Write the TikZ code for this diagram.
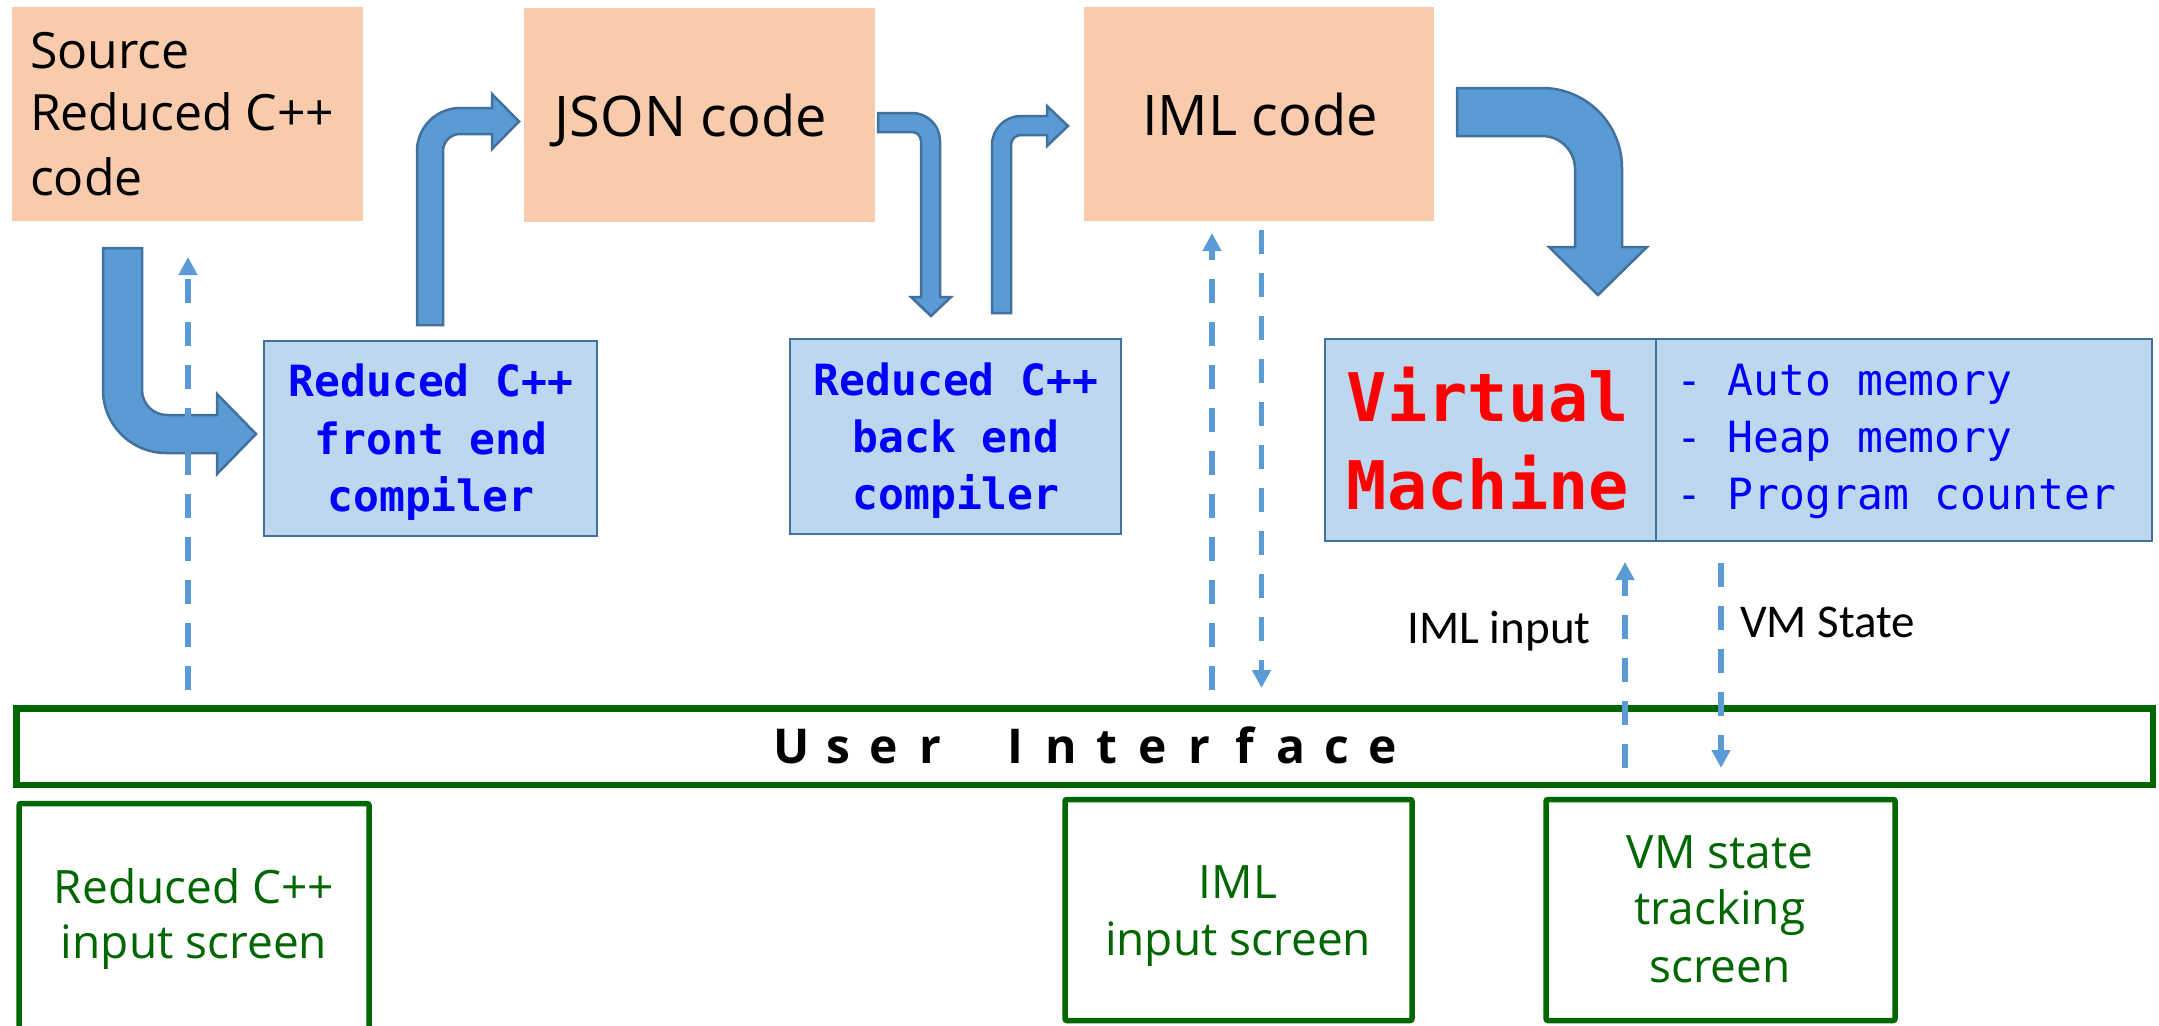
\documentclass[tikz,border=0pt]{standalone}
\usepackage{fontspec}
\usetikzlibrary{arrows.meta}
\newfontfamily\comicf{Open Sans}
\newfontfamily\monof{DejaVu Sans Mono}
\newfontfamily\calf{Carlito}
\definecolor{peach}{HTML}{F8CBAD}
\definecolor{lightblue}{HTML}{BDD7EE}
\definecolor{arrowfill}{HTML}{5B9BD5}
\definecolor{boxedge}{HTML}{41719C}
\definecolor{uigreen}{HTML}{006600}
\definecolor{textblue}{HTML}{0000FF}
\definecolor{textred}{HTML}{FF0000}
\newcommand\lsp[1]{\makebox[46pt]{#1}}
\begin{document}
\begin{tikzpicture}[x=1pt,y=-1pt,
  orangebox/.style={fill=peach, draw=none, inner sep=0pt, outer sep=0pt},
  bluebox/.style={fill=lightblue, draw=boxedge, line width=2.5pt, inner sep=0pt, outer sep=0pt},
  greenbox/.style={draw=uigreen, line width=5.5pt, rounded corners=2pt, inner sep=0pt, outer sep=0pt},
  uibox/.style={draw=uigreen, line width=6.5pt, inner sep=0pt, outer sep=0pt},
  blockarrow/.style={fill=arrowfill, draw=boxedge, line width=2.5pt},
  dasharrow/.style={draw=arrowfill, line width=5.5pt, dash pattern=on 24pt off 19pt, -{Triangle[length=18pt,width=18pt]}},
  txt/.style={inner sep=0pt, outer sep=0pt, anchor=base},
  srctxt/.style={txt, font=\comicf\fontsize{50}{60}\selectfont, text=black},
  codetxt/.style={txt, font=\comicf\fontsize{56}{66}\selectfont, text=black},
  comptxt/.style={txt, font=\monof\bfseries\fontsize{43}{52}\selectfont, text=textblue},
  vmtxt/.style={txt, font=\monof\bfseries\fontsize{67}{80}\selectfont, text=textred},
  listtxt/.style={txt, anchor=base west, font=\monof\fontsize{43}{52}\selectfont, text=textblue},
  greentxt/.style={txt, font=\comicf\fontsize{46}{56}\selectfont, text=uigreen},
  lbltxt/.style={txt, font=\calf\fontsize{47}{56}\selectfont, text=black}
]
\useasboundingbox (0,0) rectangle (2159,1025);
\fill[white] (0,0) rectangle (2159,1025);

% top orange boxes
\node[orangebox, minimum width=351pt, minimum height=214pt] (src) at (187.5,114) {};
\node[orangebox, minimum width=351pt, minimum height=214pt] (json) at (699.5,115) {};
\node[orangebox, minimum width=350pt, minimum height=214pt] (iml) at (1259,114) {};

\node[srctxt, anchor=base west] (src1) at (30,68) {Source};
\node[srctxt, anchor=base west] (src2) at (30,130) {Reduced C++};
\node[srctxt, anchor=base west] (src3) at (30,195) {code};
\node[codetxt] (jsont) at (691,136) {JSON code};
\node[codetxt] (imlt) at (1260,135) {IML code};

% compiler boxes
\node[bluebox, minimum width=333pt, minimum height=195pt] (fe) at (430.5,438.5) {};
\node[comptxt] (fe1) at (431,396) {Reduced C++};
\node[comptxt] (fe2) at (431,454) {front end};
\node[comptxt] (fe3) at (431,511) {compiler};

\node[bluebox, minimum width=331pt, minimum height=195pt] (be) at (955.5,436.5) {};
\node[comptxt] (be1) at (956,395) {Reduced C++};
\node[comptxt] (be2) at (956,452) {back end};
\node[comptxt] (be3) at (956,509) {compiler};

% virtual machine
\node[bluebox, minimum width=331pt, minimum height=202pt] (vm) at (1490.5,440) {};
\node[bluebox, minimum width=496pt, minimum height=202pt] (vmr) at (1904,440) {};
\node[vmtxt] (vm1) at (1488,421) {Virtual};
\node[vmtxt] (vm2) at (1488,509) {Machine};
\node[listtxt] (l1) at (1676,395) {- Auto memory};
\node[listtxt] (l2) at (1676,452) {- Heap memory};
\node[listtxt] (l3) at (1676,509) {- Program counter};

% user interface bar
\node[uibox, minimum width=2136.5pt, minimum height=76.5pt] (ui) at (1084.75,746.75) {};
\node[txt, font=\comicf\bfseries\fontsize{48}{56}\selectfont] (uit) at (1087.5,763)
  {\lsp{U}\lsp{s}\lsp{e}\lsp{r}\hspace{39pt}\lsp{I}\lsp{n}\lsp{t}\lsp{e}\lsp{r}\lsp{f}\lsp{a}\lsp{c}\lsp{e}};

% bottom screens
\node[greenbox, minimum width=350pt, minimum height=231.5pt] (s1) at (194,919.25) {};
\node[greentxt] (s1a) at (194,903) {Reduced C++};
\node[greentxt] (s1b) at (194,958) {input screen};

\node[greenbox, minimum width=347pt, minimum height=221pt] (s2) at (1238.5,910) {};
\node[greentxt] (s2a) at (1238,898) {IML};
\node[greentxt] (s2b) at (1238,955) {input screen};

\node[greenbox, minimum width=349pt, minimum height=221pt] (s3) at (1720.5,910) {};
\node[greentxt] (s3a) at (1720,868) {VM state};
\node[greentxt] (s3b) at (1720,924) {tracking};
\node[greentxt] (s3c) at (1720,982) {screen};

% block arrows
\draw[blockarrow] (103,248) -- (142,248) -- (142,390) .. controls (142,403.8) and (153.2,415) .. (167,415)
  -- (217,415) -- (217,394) -- (256,434) -- (217,474) -- (217,453) -- (166,453)
  .. controls (131.2,453) and (103,424.8) .. (103,390) -- cycle;
\draw[blockarrow] (417,325) -- (417,151) .. controls (417,127.3) and (436.3,108) .. (460,108)
  -- (492,108) -- (492,94) -- (519,121.5) -- (492,149) -- (492,134) -- (460,134)
  .. controls (450.6,134) and (443,141.6) .. (443,151) -- (443,325) -- cycle;
\draw[blockarrow] (878,113) -- (912,113) .. controls (927.5,113) and (940,125.5) .. (940,141)
  -- (940,297) -- (951,297) -- (931,316) -- (911,297) -- (921,297) -- (921,141)
  .. controls (921,136) and (917,132) .. (912,132) -- (878,132) -- cycle;
\draw[blockarrow] (992,313) -- (992,145) .. controls (992,129) and (1005,116) .. (1021,116)
  -- (1047,116) -- (1047,106) -- (1068,126) -- (1047,146) -- (1047,135) -- (1021,135)
  .. controls (1015.5,135) and (1011,139.5) .. (1011,145) -- (1011,313) -- cycle;
\draw[blockarrow] (1457,88) -- (1542,88) .. controls (1586.2,88) and (1622,123.8) .. (1622,168)
  -- (1622,247) -- (1647,247) -- (1598,295) -- (1549,247) -- (1575,247) -- (1575,169)
  .. controls (1575,150.8) and (1560.2,136) .. (1542,136) -- (1457,136) -- cycle;

% dashed arrows
\coordinate (d1s) at (188,690);
\coordinate (d1e) at (188,257);
\coordinate (d2s) at (1212,690);
\coordinate (d2e) at (1212,233);
\coordinate (d3s) at (1261.5,230);
\coordinate (d3e) at (1261.5,688);
\coordinate (d4s) at (1625,768);
\coordinate (d4e) at (1625,562);
\coordinate (d5s) at (1721,563);
\coordinate (d5e) at (1721,768);
\draw[dasharrow] (d1s) -- (d1e);
\draw[dasharrow] (d2s) -- (d2e);
\draw[dasharrow] (d3s) -- (d3e);
\draw[dasharrow] (d4s) -- (d4e);
\draw[dasharrow] (d5s) -- (d5e);

\node[lbltxt] (lbl1) at (1499,643) {IML input};
\node[lbltxt] (lbl2) at (1827.5,637) {VM State};
\end{tikzpicture}
\end{document}
